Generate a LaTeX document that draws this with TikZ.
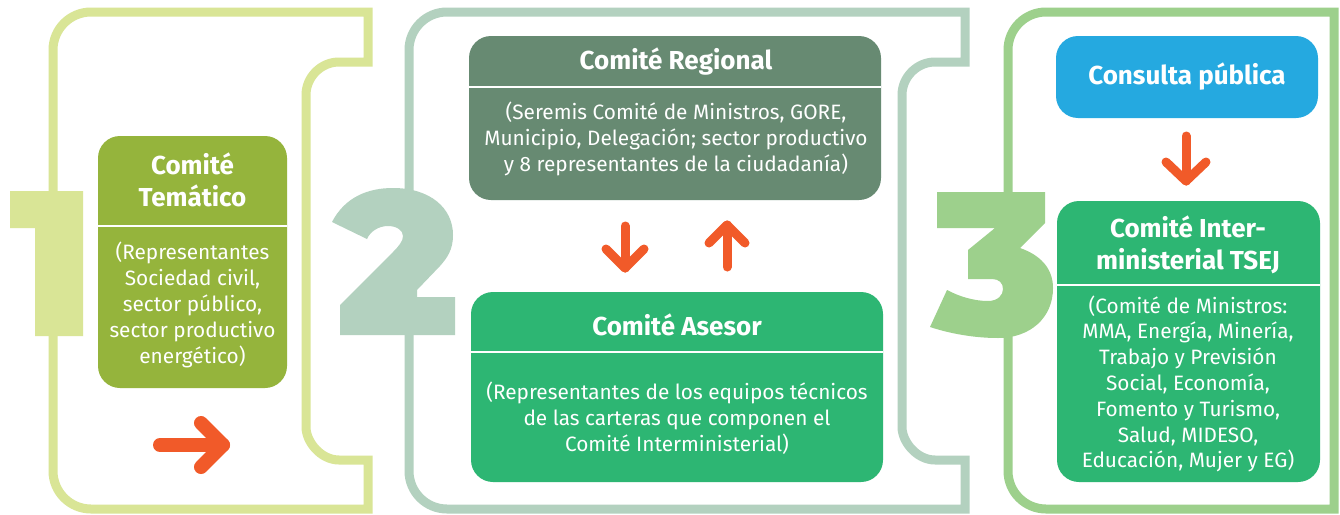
\documentclass[tikz,border=0pt]{standalone}
\usepackage{fontspec}
\setmainfont{Fira Sans}
\definecolor{cone}{HTML}{D9E596}
\definecolor{ctwo}{HTML}{B3D1BF}
\definecolor{cthree}{HTML}{9DD08C}
\definecolor{ctem}{HTML}{95B43C}
\definecolor{creg}{HTML}{678A72}
\definecolor{cgreen}{HTML}{2DB673}
\definecolor{cblue}{HTML}{25A9E0}
\definecolor{carrow}{HTML}{F15A29}
\begin{document}
\begin{tikzpicture}[x=1pt,y=-1pt,
  frame/.style={line width=9pt, line join=miter},
  box/.style={rounded corners=22pt, inner sep=0pt, draw=none},
  ttl/.style={text=white, font=\bfseries\fontsize{26}{32}\selectfont, align=center, inner sep=0pt},
  bdy/.style={text=white, font=\fontsize{20.8}{25.8}\selectfont, align=center, inner sep=0pt},
  arr/.style={draw=carrow, line cap=round, line join=round},
  divider/.style={draw=white, line width=2.5pt}]
\useasboundingbox (0,0) rectangle (1340,514);
\fill[white] (0,0) rectangle (1340,514);
% frames
\draw[frame, draw=cone] (368,62) -- (368,12) -- (91,12) .. controls (70,12) and (53,29) .. (53,50) -- (53,471) .. controls (53,492) and (70,509) .. (91,509) -- (368,509) -- (368,460) -- (339,460) .. controls (321,460) and (306,442) .. (306,427) -- (306,95) .. controls (306,77) and (321,62) .. (339,62) -- cycle;
\draw[frame, draw=ctwo] (965,62) -- (965,12) -- (447,12) .. controls (426,12) and (409,29) .. (409,50) -- (409,471) .. controls (409,492) and (426,509) .. (447,509) -- (965,509) -- (965,460) -- (935,460) .. controls (917,460) and (902,442) .. (902,427) -- (902,95) .. controls (902,77) and (917,62) .. (935,62) -- cycle;
\draw[frame, draw=cthree] (1334,12) -- (1046,12) .. controls (1025,12) and (1008,29) .. (1008,50) -- (1008,471) .. controls (1008,492) and (1025,509) .. (1046,509) -- (1334,509) -- cycle;
% numbers
\fill[cone] (10,191) -- (83,191) -- (83,336) -- (35,336) -- (35,228) -- (10,228) -- cycle;
\fill[ctwo] (332,222) .. controls (345,197) and (368,188) .. (393,188) .. controls (430,188) and (453,208) .. (453,235) .. controls (453,250) and (447,258) .. (440,266) -- (417,290) -- (417,297) -- (455,297) -- (455,335) -- (340,335) -- (340,305) -- (393,252) .. controls (399,246) and (403,241) .. (403,236) .. controls (403,230) and (396,226) .. (388,226) .. controls (378,226) and (370,232) .. (367,239) -- cycle;
\fill[cthree] (937,192) -- (1045,192) -- (1045,223) -- (1020,248) .. controls (1040,255) and (1053,268) .. (1053,288) .. controls (1053,318) and (1030,338) .. (998,338) .. controls (970,338) and (945,332) .. (930,327) -- (947,290) .. controls (960,297) and (975,301) .. (988,301) .. controls (998,301) and (1003,295) .. (1003,289) .. controls (1003,283) and (999,279) .. (992,279) -- (968,279) -- (968,250) -- (995,228) -- (937,228) -- cycle;
% boxes
\node[box, fill=ctem, minimum width=189pt, minimum height=252pt] (tem) at (192.5,262) {};
\node[box, fill=creg, minimum width=412pt, minimum height=164pt] (reg) at (675,118) {};
\node[box, fill=cgreen, minimum width=412pt, minimum height=190pt] (ase) at (677,387) {};
\node[box, fill=cblue, minimum width=262pt, minimum height=82pt] (con) at (1187,77) {};
\node[box, fill=cgreen, minimum width=263pt, minimum height=281pt] (int) at (1188.5,341.5) {};
\draw[divider] (tem.west |- 0,226) -- (tem.east |- 0,226);
\draw[divider] (reg.west |- 0,87) -- (reg.east |- 0,87);
\draw[divider] (ase.west |- 0,352) -- (ase.east |- 0,352);
\draw[divider] (int.west |- 0,285) -- (int.east |- 0,285);
% texts
\node[ttl] (temt) at (192.5,180) {Comité\\Temático};
\node[bdy] (temb) at (192.5,305) {(Representantes\\Sociedad civil,\\sector público,\\sector productivo\\energético)};
\node[ttl] (regt) at (676,62) {Comité Regional};
\node[bdy] (regb) at (676,139) {(Seremis Comité de Ministros, GORE,\\Municipio, Delegación; sector productivo\\y 8 representantes de la ciudadanía)};
\node[ttl] (aset) at (677,325) {Comité Asesor};
\node[bdy] (aseb) at (677,418) {(Representantes de los equipos técnicos\\de las carteras que componen el\\Comité Interministerial)};
\node[ttl] (cont) at (1187,77) {Consulta pública};
\node[ttl] (intt) at (1188,245) {Comité Inter-\\ministerial TSEJ};
\node[bdy] (intb) at (1188,384) {(Comité de Ministros:\\MMA, Energía, Minería,\\Trabajo y Previsión\\Social, Economía,\\Fomento y Turismo,\\Salud, MIDESO,\\Educación, Mujer y EG)};
% arrows
\coordinate (ra) at (160,445); \coordinate (rb) at (223,445);
\draw[arr, line width=14pt] (ra) -- (rb);
\draw[arr, line width=14pt] ([shift={(-22,-22)}]rb) -- (rb) -- ([shift={(-22,22)}]rb);
\coordinate (da) at (625,226); \coordinate (db) at (625,268);
\draw[arr, line width=9pt] (da) -- (db);
\draw[arr, line width=9pt] ([shift={(-19,-19)}]db) -- (db) -- ([shift={(19,-19)}]db);
\coordinate (ua) at (727,267); \coordinate (ub) at (727,225);
\draw[arr, line width=9pt] (ua) -- (ub);
\draw[arr, line width=9pt] ([shift={(-18,18)}]ub) -- (ub) -- ([shift={(18,18)}]ub);
\coordinate (ca) at (1186,136); \coordinate (cb) at (1186,181);
\draw[arr, line width=9pt] (ca) -- (cb);
\draw[arr, line width=9pt] ([shift={(-20,-19)}]cb) -- (cb) -- ([shift={(20,-19)}]cb);
\end{tikzpicture}
\end{document}
